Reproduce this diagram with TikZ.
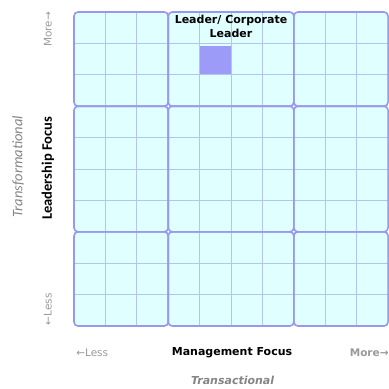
\documentclass[tikz,border=0pt]{standalone}
\usepackage{fontspec}
\usepackage{xcolor}
\usepackage{tikz}
\setmainfont{DejaVu Sans}
\newfontfamily\calfont{Carlito}

\definecolor{gridfill}{HTML}{E0FFFF}
\definecolor{gridline}{HTML}{B4C4F0}
\definecolor{blockline}{HTML}{9898EC}
\definecolor{markfill}{HTML}{9C9CF8}
\definecolor{axisgray}{HTML}{999999}
\definecolor{titlegray}{HTML}{858585}

\begin{document}
\begin{tikzpicture}[x=31.4pt, y=-31.4pt,
	block/.style={draw=blockline, line width=1.6pt, rounded corners=4pt},
	thinline/.style={draw=gridline, line width=0.8pt},
	axislabel/.style={font=\bfseries\fontsize{11}{14}\selectfont, text=black, inner sep=0pt},
	sidelabel/.style={font=\calfont\bfseries\fontsize{14.5}{16}\selectfont, text=black, inner sep=0pt},
	endlabel/.style={font=\fontsize{10.5}{12}\selectfont, text=axisgray, inner sep=0pt},
	paxis/.style={font=\calfont\itshape\fontsize{14.5}{16}\selectfont, text=titlegray, inner sep=0pt}]
	\useasboundingbox (-2.357, -0.382) rectangle (10.03, 11.975);
	
	% cyan blocks
	\foreach \xa/\xb in {0/3, 3/7, 7/10}
		\foreach \ya/\yb in {0/3, 3/7, 7/10}
			\fill[gridfill, rounded corners=4pt] (\xa, \ya) rectangle (\xb, \yb);
	
	\fill[markfill] (4, 1.08) rectangle (5, 2);
	
	\foreach \i in {1, 2, 4, 5, 6, 8, 9} {
		\draw[thinline] (\i, 0) -- (\i, 10);
		\draw[thinline] (0, \i) -- (10, \i);
	}
	
	\foreach \xa/\xb in {0/3, 3/7, 7/10}
		\foreach \ya/\yb in {0/3, 3/7, 7/10}
			\draw[block] (\xa, \ya) rectangle (\xb, \yb);
	
	\node[axislabel, align=center] (corp) at (5, 0.45) {Leader/ Corporate\\Leader};
	
	\node[sidelabel, rotate=90] (lfocus) at (-0.83, 4.98) {Leadership Focus};
	\node[paxis, rotate=90] (transf) at (-1.78, 4.93) {Transformational};
	\node[endlabel, rotate=90] (lmore) at (-0.83, 0.55) {More→};
	\node[endlabel, rotate=90] (lless) at (-0.83, 9.46) {←Less};
	
	\node[axislabel] (mfocus) at (5.03, 10.86) {Management Focus};
	\node[endlabel] (bless) at (0.58, 10.86) {←Less};
	\node[endlabel, font=\bfseries\fontsize{10.5}{12}\selectfont] (bmore) at (9.4, 10.86) {More→};
	\node[paxis, font=\bfseries\itshape\fontsize{11}{13}\selectfont] (transa) at (5.05, 11.72) {Transactional};
\end{tikzpicture}
\end{document}
